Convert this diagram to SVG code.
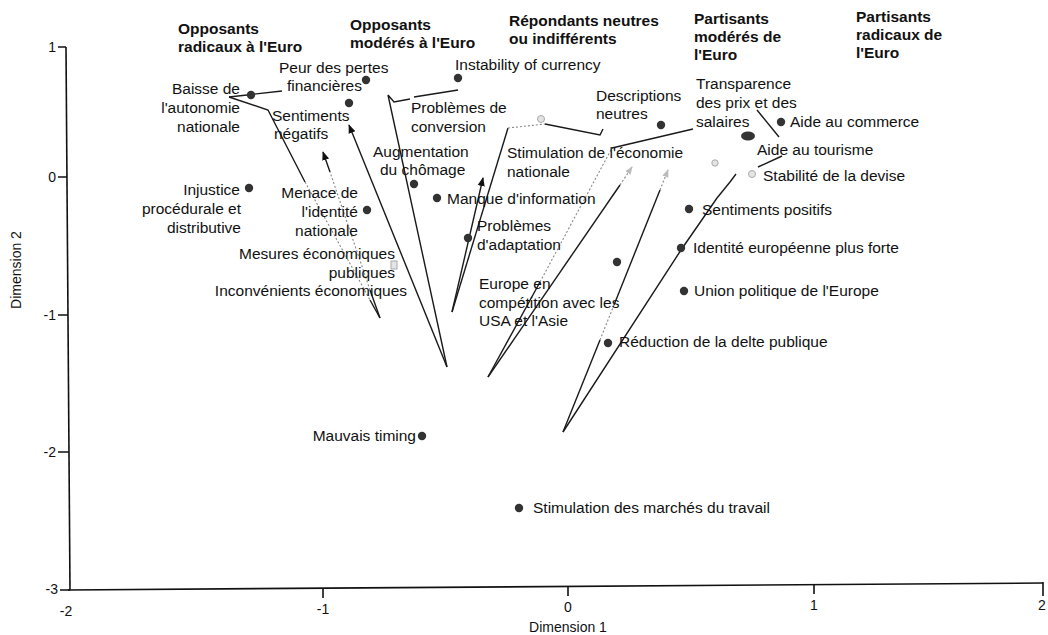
<svg xmlns="http://www.w3.org/2000/svg" width="1048" height="635" viewBox="0 0 1048 635">
<defs>
<style>
text{font-family:"Liberation Sans",Arial,sans-serif;fill:#111}
.lb{font-size:15.5px}
.hd{font-size:15.5px;font-weight:bold}
.ax{font-size:14px}
.e{text-anchor:end}
.m{text-anchor:middle}
.dot{fill:#333}
.ldot{fill:#e4e4e4;stroke:#aaa;stroke-width:1}
.ln{fill:none;stroke:#1a1a1a;stroke-width:1.4}
.lt{fill:none;stroke:#888;stroke-width:1.1;stroke-dasharray:2 2}
.axl{fill:none;stroke:#111;stroke-width:1.6}
</style>
<marker id="ah" viewBox="0 0 10 10" refX="9" refY="5" markerWidth="9" markerHeight="9" orient="auto" markerUnits="userSpaceOnUse"><path d="M0,1 L10,5 L0,9 Z" fill="#111"/></marker>
<marker id="ahl" viewBox="0 0 10 10" refX="9" refY="5" markerWidth="8" markerHeight="8" orient="auto" markerUnits="userSpaceOnUse"><path d="M0,1 L10,5 L0,9 Z" fill="#bbb"/></marker>
</defs>
<rect width="1048" height="635" fill="#fff"/>

<g id="axes">
<path class="axl" d="M66,47 L70,590"/>
<path class="axl" d="M68,590 Q700,584 1043,583"/>
<path class="axl" d="M58,47 H66 M58,177 H67 M58,315 H68 M58,452 H69 M60,590 H70"/>
<path class="axl" d="M323,588 V598 M568,586 V596 M814,584 V594 M1043,582 V596"/>
<text class="ax e" x="56" y="52">1</text>
<text class="ax e" x="56" y="182">0</text>
<text class="ax e" x="56" y="320">-1</text>
<text class="ax e" x="56" y="457">-2</text>
<text class="ax e" x="58" y="594">-3</text>
<text class="ax m" x="66" y="616">-2</text>
<text class="ax m" x="323" y="614">-1</text>
<text class="ax m" x="568" y="612">0</text>
<text class="ax m" x="814" y="610">1</text>
<text class="ax m" x="1042" y="610">2</text>
<text class="ax m" x="568" y="632">Dimension 1</text>
<text class="ax m" transform="translate(21,270) rotate(-90)">Dimension 2</text>
</g>

<g id="headers">
<text class="hd" x="178" y="34">Opposants</text>
<text class="hd" x="178" y="52">radicaux à l'Euro</text>
<text class="hd" x="350" y="30">Opposants</text>
<text class="hd" x="350" y="48">modérés à l'Euro</text>
<text class="hd" x="509" y="26">Répondants neutres</text>
<text class="hd" x="509" y="44">ou indifférents</text>
<text class="hd" x="694" y="24">Partisants</text>
<text class="hd" x="694" y="42">modérés de</text>
<text class="hd" x="694" y="60">l'Euro</text>
<text class="hd" x="856" y="22">Partisants</text>
<text class="hd" x="856" y="40">radicaux de</text>
<text class="hd" x="856" y="58">l'Euro</text>
</g>

<g id="connectors">
<path class="ln" d="M229,97 L282,91"/>
<path class="ln" d="M229,97 L268,110 L305,182"/>
<path class="lt" d="M305,182 L370,300"/>
<path class="ln" d="M370,300 L380,318"/>
<path class="ln" d="M380,318 L370,290"/>
<path class="lt" d="M370,290 L330,172"/>
<path class="ln" d="M330,172 L323,152" marker-end="url(#ah)"/>
<path class="ln" d="M447,367 L349,125" marker-end="url(#ah)"/>
<path class="ln" d="M447,367 L388,95 L394,102 L410,99"/>
<path class="ln" d="M414,97 L458,90"/>
<path class="ln" d="M452,312 L483,178" marker-end="url(#ah)"/>
<path class="ln" d="M452,312 L508,128"/>
<path class="lt" d="M508,128 L545,124"/>
<path class="ln" d="M545,124 L600,135 L603,129"/>
<path class="ln" d="M488,377 L540,282"/>
<path class="lt" d="M540,282 L612,148"/>
<path class="ln" d="M612,148 L693,129"/>
<path class="ln" d="M488,377 L620,185"/>
<path class="lt" d="M620,185 L632,167" marker-end="url(#ahl)"/>
<path class="ln" d="M563,432 L600,340"/>
<path class="lt" d="M600,340 L614,305"/>
<path class="ln" d="M614,305 L660,190"/>
<path class="lt" d="M660,190 L668,170" marker-end="url(#ahl)"/>
<path class="ln" d="M563,432 L681,250 L717,198 L730,182 L736,174"/>
<path class="ln" d="M758,167 L782,156"/>
<path class="ln" d="M757,110 L779,137"/>
</g>

<g id="n-baisse"><circle class="dot" cx="251" cy="95" r="4.2"/>
<text class="lb e" x="240" y="94">Baisse de</text><text class="lb e" x="240" y="113">l'autonomie</text><text class="lb e" x="240" y="132">nationale</text></g>
<g id="n-peur"><circle class="dot" cx="366" cy="80" r="4.2"/>
<text class="lb" x="279" y="73">Peur des pertes</text><text class="lb" x="287" y="91">financières</text></g>
<g id="n-sentneg"><circle class="dot" cx="349" cy="103" r="4.2"/>
<text class="lb" x="272" y="121">Sentiments</text><text class="lb" x="274" y="139">négatifs</text></g>
<g id="n-instab"><circle class="dot" cx="458" cy="78" r="4.2"/>
<text class="lb" x="455" y="70">Instability of currency</text></g>
<g id="n-conv"><text class="lb" x="411" y="113">Problèmes de</text><text class="lb" x="411" y="132">conversion</text></g>
<g id="n-chomage"><circle class="dot" cx="414" cy="184" r="4.2"/>
<text class="lb" x="373" y="157">Augmentation</text><text class="lb" x="380" y="175">du chômage</text></g>
<g id="n-manque"><circle class="dot" cx="437" cy="198" r="4.2"/>
<text class="lb" x="447" y="204">Manque d'information</text></g>
<g id="n-adapt"><circle class="dot" cx="468" cy="238" r="4.2"/>
<text class="lb" x="477" y="231">Problèmes</text><text class="lb" x="477" y="250">d'adaptation</text></g>
<g id="n-injustice"><circle class="dot" cx="249" cy="188" r="4.2"/>
<text class="lb e" x="240" y="195">Injustice</text><text class="lb e" x="241" y="214">procédurale et</text><text class="lb e" x="241" y="233">distributive</text></g>
<g id="n-menace"><circle class="dot" cx="367" cy="210" r="4.2"/>
<text class="lb e" x="358" y="198">Menace de</text><text class="lb e" x="358" y="217">l'identité</text><text class="lb e" x="358" y="236">nationale</text></g>
<g id="n-mesures"><rect class="ldot" x="391" y="261" width="6" height="8"/>
<text class="lb e" x="395" y="259">Mesures économiques</text><text class="lb e" x="395" y="278">publiques</text></g>
<g id="n-inconv"><text class="lb e" x="407" y="296">Inconvénients économiques</text></g>
<g id="n-europe"><circle class="dot" cx="617" cy="262" r="4.2"/>
<text class="lb" x="479" y="289">Europe en</text><text class="lb" x="479" y="308">compétition avec les</text><text class="lb" x="479" y="326">USA et l'Asie</text></g>
<g id="n-descr"><circle class="dot" cx="661" cy="125" r="4.2"/>
<text class="lb" x="596" y="101">Descriptions</text><text class="lb" x="596" y="119">neutres</text></g>
<g id="n-stimeco"><circle class="ldot" cx="541" cy="119" r="3.5"/>
<text class="lb" x="507" y="158">Stimulation de l'économie</text><text class="lb" x="507" y="177">nationale</text></g>
<g id="n-transp"><ellipse class="dot" cx="748" cy="136" rx="7" ry="4.5"/>
<text class="lb" x="696" y="89">Transparence</text><text class="lb" x="696" y="108">des prix et des</text><text class="lb" x="696" y="127">salaires</text></g>
<g id="n-commerce"><circle class="dot" cx="781" cy="122" r="4.2"/>
<text class="lb" x="790" y="127">Aide au commerce</text></g>
<g id="n-tourisme"><circle class="ldot" cx="715" cy="163" r="3.2"/>
<text class="lb" x="757" y="155">Aide au tourisme</text></g>
<g id="n-stabilite"><circle class="ldot" cx="752" cy="174" r="3.5"/>
<text class="lb" x="763" y="181">Stabilité de la devise</text></g>
<g id="n-sentpos"><circle class="dot" cx="689" cy="209" r="4.2"/>
<text class="lb" x="702" y="215">Sentiments positifs</text></g>
<g id="n-identite"><circle class="dot" cx="681" cy="248" r="4.2"/>
<text class="lb" x="693" y="253">Identité européenne plus forte</text></g>
<g id="n-union"><circle class="dot" cx="684" cy="291" r="4.2"/>
<text class="lb" x="694" y="296">Union politique de l'Europe</text></g>
<g id="n-dette"><circle class="dot" cx="608" cy="343" r="4.2"/>
<text class="lb" x="619" y="347">Réduction de la delte publique</text></g>
<g id="n-timing"><circle class="dot" cx="422" cy="436" r="4.2"/>
<text class="lb e" x="416" y="441">Mauvais timing</text></g>
<g id="n-marches"><circle class="dot" cx="519" cy="508" r="4.2"/>
<text class="lb" x="533" y="513">Stimulation des marchés du travail</text></g>
</svg>
